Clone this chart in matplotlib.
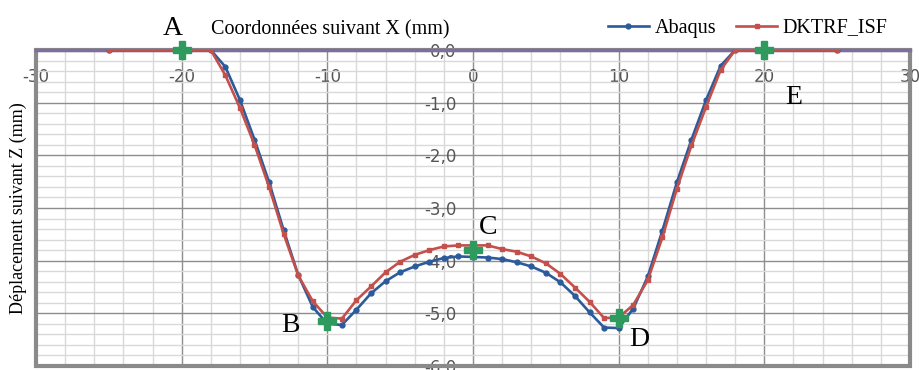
import matplotlib
matplotlib.use("Agg")
import matplotlib.pyplot as plt
from matplotlib.patches import Rectangle
import numpy as np

# x positions of the computed nodes (mm)
x_nodes = [-25, -19.5, -18, -17, -16, -15, -14, -13, -12, -11, -10, -9, -8, -7, -6, -5,
           -4, -3, -2, -1, 0, 1, 2, 3, 4, 5, 6, 7, 8, 9, 10, 11, 12, 13, 14, 15, 16,
           17, 18, 19.5, 25]

# vertical displacement Z (mm)
z_abaqus = [0, 0, 0, -0.32, -0.95, -1.70, -2.51, -3.42, -4.27, -4.88, -5.20, -5.22, -4.93,
            -4.62, -4.39, -4.22, -4.11, -4.02, -3.95, -3.92, -3.93, -3.94, -3.97, -4.03,
            -4.11, -4.23, -4.41, -4.67, -4.98, -5.27, -5.28, -4.91, -4.30, -3.43, -2.51,
            -1.70, -0.95, -0.30, 0, 0, 0]
z_dktrf = [0, 0, 0, -0.48, -1.10, -1.80, -2.60, -3.49, -4.28, -4.77, -5.08, -5.10, -4.75,
           -4.49, -4.22, -4.02, -3.89, -3.80, -3.73, -3.71, -3.71, -3.71, -3.78, -3.83,
           -3.92, -4.05, -4.25, -4.51, -4.78, -5.09, -5.08, -4.84, -4.37, -3.56, -2.63,
           -1.81, -1.08, -0.38, 0, 0, 0]

# reference points A..E
pts_x = [-20, -10, 0, 10, 20]
pts_z = [0, -5.14, -3.80, -5.09, 0]
pts_names = ["A", "B", "C", "D", "E"]
name_pos = [(-20.6, 0.41), (-12.5, -5.24), (1.05, -3.37), (11.4, -5.50), (22.0, -0.91)]

xtick_vals = [-30, -20, -10, 0, 10, 20, 30]
xtick_labels = ["-30", "-20", "-10", "0", "10", "20", "30"]
ytick_vals = [-6, -5, -4, -3, -2, -1, 0]
ytick_labels = ["-6,0", "-5,0", "-4,0", "-3,0", "-2,0", "-1,0", "0,0"]

serif = "Liberation Serif"

fig = plt.figure(figsize=(9.2, 3.7), dpi=100)
ax = fig.add_axes([36 / 920, 1 - 366 / 370, 874 / 920, 316 / 370])

ax.set_xlim(-30, 30)
ax.set_ylim(-6, 0)

ax.set_xticks(xtick_vals)
ax.set_xticklabels(xtick_labels)
ax.set_yticks(ytick_vals)
ax.set_yticklabels(ytick_labels)
ax.set_xticks(np.arange(-30, 31, 2), minor=True)
ax.set_yticks(np.arange(-6, 0.01, 0.2), minor=True)

ax.grid(which="minor", color="#D9D9D9", lw=1, zorder=0)
ax.grid(which="major", color="#8E8E8E", lw=1, zorder=0)
ax.set_axisbelow(True)

# axes cross at the origin
ax.spines["bottom"].set_position(("data", 0))
ax.spines["left"].set_position(("data", 0))
ax.spines["bottom"].set_color("#7E6E9E")
ax.spines["bottom"].set_linewidth(2.5)
ax.spines["left"].set_color("none")
ax.spines["top"].set_visible(False)
ax.spines["right"].set_visible(False)
ax.tick_params(which="both", length=0)
ax.tick_params(axis="x", pad=13, labelsize=12, labelcolor="#555555")
ax.tick_params(axis="y", pad=12, labelsize=12, labelcolor="#555555")

ax.add_patch(Rectangle((0, 0), 1, 1, transform=ax.transAxes, fill=False,
                       ec="#8A8A8A", lw=3, clip_on=False, zorder=2.4))

ax.plot(x_nodes, z_abaqus, color="#2B5B9B", lw=1.9, marker="o", ms=3.5,
        label="Abaqus", zorder=3)
ax.plot(x_nodes, z_dktrf, color="#C4504C", lw=1.9, marker="s", ms=3,
        label="DKTRF_ISF", zorder=3.1)
ax.plot(pts_x, pts_z, ls="none", marker="P", ms=13, color="#2E9A5E",
        mec="#2E9A5E", zorder=4, clip_on=False)

for name, (tx, ty) in zip(pts_names, name_pos):
    ax.text(tx, ty, name, family=serif, fontsize=20, ha="center", va="center",
            clip_on=False, zorder=5)

fig.text(330 / 920, 1 - 30 / 370, "Coordonnées suivant X (mm)", family=serif,
         fontsize=14.5, ha="center", va="center")
fig.text(18 / 920, 1 - 208 / 370, "Déplacement suivant Z (mm)", family=serif,
         fontsize=13, ha="center", va="center", rotation=90)

fig.legend(loc="center", bbox_to_anchor=(748 / 920, 1 - 28 / 370), ncol=2,
           frameon=False, prop={"family": serif, "size": 14.5}, handlelength=2.0,
           columnspacing=1.0, handletextpad=0.3)

fig.savefig("out.png", dpi=100)
